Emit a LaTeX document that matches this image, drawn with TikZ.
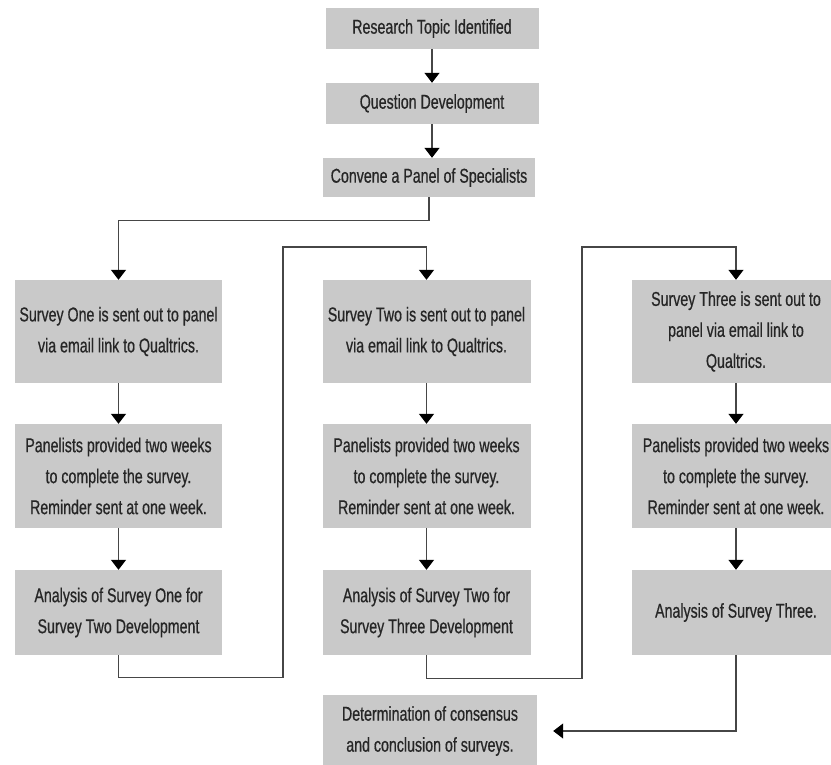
\documentclass[tikz,border=0pt]{standalone}
\usepackage{fontspec}
\setmainfont{Liberation Sans}[FakeStretch=0.71,FakeBold=0.6]
\usepackage{xcolor}
\usetikzlibrary{arrows.meta}

\definecolor{boxgray}{RGB}{201,201,201}
\definecolor{inkgray}{RGB}{38,38,38}
\definecolor{wiregray}{RGB}{70,70,70}

\tikzset{
  stagebox/.style={fill=boxgray,text=inkgray,align=center,inner sep=0pt,
    font=\fontsize{20}{31}\selectfont},
  flow/.style={draw=wiregray,line width=1.3pt,
    -{Triangle[width=15pt,length=10pt,color=black]}}
}

\begin{document}
\begin{tikzpicture}[x=1pt,y=-1pt]

\useasboundingbox (0,0) rectangle (831,764);
\fill[white] (0,0) rectangle (831,764);
\clip (0,0) rectangle (831,764);

\node[stagebox,minimum width=213,minimum height=41] (res) at (432,28.5) {Research Topic Identified};
\node[stagebox,minimum width=213,minimum height=41] (que) at (432,103.5) {Question Development};
\node[stagebox,minimum width=212,minimum height=39] (conv) at (429,177.5) {Convene a Panel of Specialists};

\node[stagebox,minimum width=207,minimum height=103] (s1) at (118.5,331.5) {Survey One is sent out to panel\\via email link to Qualtrics.};
\node[stagebox,minimum width=207,minimum height=104] (p1) at (118.5,476) {Panelists provided two weeks\\to complete the survey.\\Reminder sent at one week.};
\node[stagebox,minimum width=207,minimum height=85] (a1) at (118.5,612.5) {Analysis of Survey One for\\Survey Two Development};

\node[stagebox,minimum width=208,minimum height=103] (s2) at (426.5,331.5) {Survey Two is sent out to panel\\via email link to Qualtrics.};
\node[stagebox,minimum width=208,minimum height=104] (p2) at (426.5,476) {Panelists provided two weeks\\to complete the survey.\\Reminder sent at one week.};
\node[stagebox,minimum width=208,minimum height=85] (a2) at (426.5,612.5) {Analysis of Survey Two for\\Survey Three Development};

\node[stagebox,minimum width=208,minimum height=103] (s3) at (736,331.5) {Survey Three is sent out to\\panel via email link to\\Qualtrics.};
\node[stagebox,minimum width=208,minimum height=104] (p3) at (736,476) {Panelists provided two weeks\\to complete the survey.\\Reminder sent at one week.};
\node[stagebox,minimum width=208,minimum height=85] (a3) at (736,612.5) {Analysis of Survey Three.};

\node[stagebox,minimum width=214,minimum height=72] (det) at (430,731) {Determination of consensus\\and conclusion of surveys.};

\coordinate (up1) at (283,247);
\coordinate (up2) at (582,247);

\draw[flow] (res) -- (que);
\draw[flow] (que.south) -- (que.south |- conv.north);
\draw[flow] (conv.south) -- ++(0,23) -| (s1.north);

\draw[flow] (s1) -- (p1);
\draw[flow] (p1) -- (a1);
\draw[flow] (a1.south) -- ++(0,22) -| (up1) -| (s2.north);

\draw[flow] (s2) -- (p2);
\draw[flow] (p2) -- (a2);
\draw[flow] (a2.south) -- ++(0,23) -| (up2) -| (s3.north);

\draw[flow] (s3) -- (p3);
\draw[flow] (p3) -- (a3);
\draw[flow] (a3.south) |- ([xshift=16pt]det.east);

\end{tikzpicture}
\end{document}
